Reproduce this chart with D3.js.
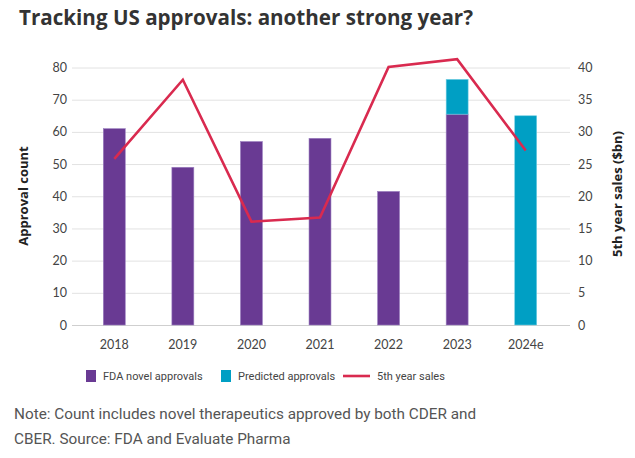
<!DOCTYPE html>
<html>
<head>
<meta charset="utf-8">
<script src="https://cdn.jsdelivr.net/npm/d3@7"></script>
<style>
  body { margin: 0; background: #fff; }
  svg { display: block; }
</style>
</head>
<body>
<div id="graph"></div>
<script>
var w = 635, h = 458

var years = ['2018', '2019', '2020', '2021', '2022', '2023', '2024e']
var fdaApprovals = [61, 49, 57, 58, 41.5, 65.5, 0]
var predictedApprovals = [0, 0, 0, 0, 0, 10.8, 65]
var sales = [25.8, 38.1, 16.05, 16.7, 40.1, 41.3, 27.1]
var leftTicks = [0, 10, 20, 30, 40, 50, 60, 70, 80]
var rightTicks = [0, 5, 10, 15, 20, 25, 30, 35, 40]

var purple = '#693a93', teal = '#009fc4', red = '#d92a4f'

var svg = d3.select('#graph').append('svg')
    .attr('width', w).attr('height', h)

var x = d3.scaleBand().domain(years).range([80, 560]).paddingInner(0.68).paddingOuter(0.34)
var y = d3.scaleLinear().domain([0, 80]).range([325, 67.5])
var y2 = d3.scaleLinear().domain([0, 40]).range([325, 67.5])

// gridlines
svg.append('g').selectAll('line').data(leftTicks).join('line')
    .attr('x1', 72).attr('x2', 570)
    .attr('y1', function(d){ return y(d) + 0.5 })
    .attr('y2', function(d){ return y(d) + 0.5 })
    .attr('stroke', function(d){ return d == 0 ? '#cfcfcf' : '#e2e2e2' })
    .attr('stroke-width', 1)

var tickFont = 'Lato, "Open Sans", sans-serif'

// left axis
var left = svg.append('g').attr('transform', 'translate(67,0)')
    .call(d3.axisLeft(y).tickValues(leftTicks).tickSize(0).tickPadding(0))
left.select('.domain').remove()
left.selectAll('text').attr('font-family', tickFont).attr('font-size', 12.5).attr('fill', '#444')

// right axis
var right = svg.append('g').attr('transform', 'translate(578,0)')
    .call(d3.axisRight(y2).tickValues(rightTicks).tickSize(0).tickPadding(0))
right.select('.domain').remove()
right.selectAll('text').attr('font-family', tickFont).attr('font-size', 12.5).attr('fill', '#444')

// x axis
var bottom = svg.append('g').attr('transform', 'translate(0,340)')
    .call(d3.axisBottom(x).tickSize(0).tickPadding(0))
bottom.select('.domain').remove()
bottom.selectAll('text').attr('font-family', tickFont).attr('font-size', 12.5).attr('fill', '#444')

// bars
var bars = svg.append('g')
bars.selectAll('rect.fda').data(years).join('rect')
    .attr('class', 'fda')
    .attr('x', function(d){ return x(d) })
    .attr('width', x.bandwidth())
    .attr('y', function(d, i){ return y(fdaApprovals[i]) })
    .attr('height', function(d, i){ return y(0) - y(fdaApprovals[i]) })
    .attr('fill', purple)
    .attr('stroke', '#9b7fc0').attr('stroke-width', 0.6)
    .style('display', function(d, i){ return fdaApprovals[i] ? null : 'none' })

bars.selectAll('rect.pred').data(years).join('rect')
    .attr('class', 'pred')
    .attr('x', function(d){ return x(d) })
    .attr('width', x.bandwidth())
    .attr('y', function(d, i){ return y(fdaApprovals[i] + predictedApprovals[i]) })
    .attr('height', function(d, i){ return y(fdaApprovals[i]) - y(fdaApprovals[i] + predictedApprovals[i]) })
    .attr('fill', teal)
    .attr('stroke', '#6fcde2').attr('stroke-width', 0.6)
    .style('display', function(d, i){ return predictedApprovals[i] ? null : 'none' })

// line
var line = d3.line()
    .x(function(d, i){ return x(years[i]) + x.bandwidth() / 2 })
    .y(function(d){ return y2(d) })

svg.append('path').datum(sales)
    .attr('d', line)
    .attr('fill', 'none')
    .attr('stroke', red)
    .attr('stroke-width', 2.6)
    .attr('stroke-linejoin', 'miter')

// axis titles
svg.append('text')
    .attr('transform', 'translate(28,196) rotate(-90)')
    .attr('text-anchor', 'middle')
    .attr('font-family', '"Open Sans", sans-serif').attr('font-weight', 'bold')
    .attr('font-size', 13).attr('fill', '#222')
    .text('Approval count')

svg.append('text')
    .attr('transform', 'translate(622,194) rotate(-90)')
    .attr('text-anchor', 'middle')
    .attr('font-family', '"Open Sans", sans-serif').attr('font-weight', 'bold')
    .attr('font-size', 13).attr('fill', '#222')
    .text('5th year sales ($bn)')

// title
svg.append('text')
    .attr('x', 19).attr('y', 25)
    .attr('font-family', '"Open Sans", sans-serif').attr('font-weight', 'bold')
    .attr('font-size', 20.6).attr('fill', '#333')
    .text('Tracking US approvals: another strong year?')

// legend
var legendFont = 'Roboto, sans-serif'
var legend = svg.append('g').attr('font-family', legendFont).attr('font-size', 11).attr('fill', '#444')
var items = [
  {label: 'FDA novel approvals', color: purple, x: 86, type: 'box'},
  {label: 'Predicted approvals', color: teal, x: 221, type: 'box'},
  {label: '5th year sales', color: red, x: 343, type: 'line'}
]
items.forEach(function(d){
  if (d.type == 'box') {
    legend.append('rect').attr('x', d.x).attr('y', 370).attr('width', 10).attr('height', 12).attr('fill', d.color)
    legend.append('text').attr('x', d.x + 17).attr('y', 380).text(d.label)
  } else {
    legend.append('line').attr('x1', d.x).attr('x2', d.x + 27).attr('y1', 376).attr('y2', 376)
        .attr('stroke', d.color).attr('stroke-width', 2.6)
    legend.append('text').attr('x', d.x + 34).attr('y', 380).text(d.label)
  }
})

// note
var note = svg.append('g').attr('font-family', legendFont).attr('font-size', 15.3).attr('fill', '#555')
note.append('text').attr('x', 14).attr('y', 419).text('Note: Count includes novel therapeutics approved by both CDER and')
note.append('text').attr('x', 14).attr('y', 444).text('CBER. Source: FDA and Evaluate Pharma')
</script>
</body>
</html>
